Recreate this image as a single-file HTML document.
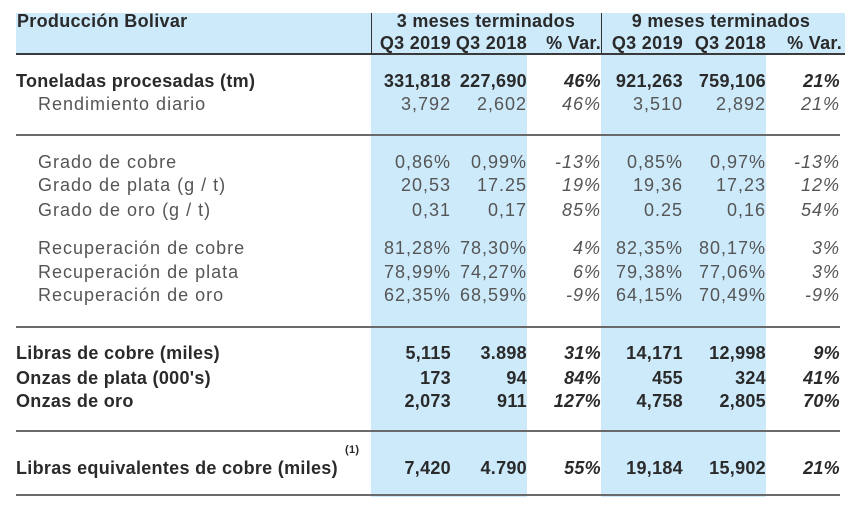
<!DOCTYPE html>
<html><head><meta charset="utf-8"><style>
html,body{margin:0;padding:0;background:#fff;}
body{width:860px;height:506px;position:relative;overflow:hidden;font-family:"Liberation Sans",sans-serif;color:#3a3a3a;}
.a{position:absolute;white-space:nowrap;line-height:22px;font-size:18px;}
.b{font-weight:bold;color:#2a2a2a;letter-spacing:0.3px;}
.r{color:#555;letter-spacing:1px;}
.i{font-style:italic;}
.bg{position:absolute;background:#cdeafb;}
.ln{position:absolute;left:16px;width:824px;height:2px;background:#6a6a6a;}
</style></head><body>
<div class="bg" style="left:16px;top:13px;width:829px;height:41px"></div>
<div class="bg" style="left:371px;top:54px;width:156px;height:443px"></div>
<div class="bg" style="left:601px;top:54px;width:165px;height:443px"></div>
<div class="ln" style="top:53px;width:829px;height:2px;background:#3a3a3a"></div>
<div style="position:absolute;left:371px;top:13px;width:1px;height:41px;background:#333"></div>
<div style="position:absolute;left:601px;top:13px;width:1px;height:41px;background:#333"></div>
<div class="ln" style="top:134px"></div>
<div class="ln" style="top:326px"></div>
<div class="ln" style="top:430px"></div>
<div class="ln" style="top:494px"></div>

<div class="a b" style="left:17px;top:10px">Producción Bolivar</div>
<div class="a b" style="left:371px;width:230px;text-align:center;top:10px">3 meses terminados</div>
<div class="a b" style="left:601px;width:240px;text-align:center;top:10px">9 meses terminados</div>
<div class="a b" style="right:409px;top:32px">Q3 2019</div>
<div class="a b" style="right:333px;top:32px">Q3 2018</div>
<div class="a b" style="right:259px;top:32px">% Var.</div>
<div class="a b" style="right:177px;top:32px">Q3 2019</div>
<div class="a b" style="right:94px;top:32px">Q3 2018</div>
<div class="a b" style="right:18px;top:32px">% Var.</div>

<div class="a b" style="left:16px;top:70px">Toneladas procesadas (tm)</div>
<div class="a b" style="right:409px;top:70px">331,818</div>
<div class="a b" style="right:333px;top:70px">227,690</div>
<div class="a b i" style="right:259px;top:70px">46%</div>
<div class="a b" style="right:177px;top:70px">921,263</div>
<div class="a b" style="right:94px;top:70px">759,106</div>
<div class="a b i" style="right:20px;top:70px">21%</div>

<div class="a r" style="left:38px;top:93px">Rendimiento diario</div>
<div class="a r" style="right:409px;top:93px">3,792</div>
<div class="a r" style="right:333px;top:93px">2,602</div>
<div class="a r i" style="right:259px;top:93px">46%</div>
<div class="a r" style="right:177px;top:93px">3,510</div>
<div class="a r" style="right:94px;top:93px">2,892</div>
<div class="a r i" style="right:20px;top:93px">21%</div>

<div class="a r" style="left:38px;top:151px">Grado de cobre</div>
<div class="a r" style="right:409px;top:151px">0,86%</div>
<div class="a r" style="right:333px;top:151px">0,99%</div>
<div class="a r i" style="right:259px;top:151px">-13%</div>
<div class="a r" style="right:177px;top:151px">0,85%</div>
<div class="a r" style="right:94px;top:151px">0,97%</div>
<div class="a r i" style="right:20px;top:151px">-13%</div>

<div class="a r" style="left:38px;top:174px">Grado de plata (g / t)</div>
<div class="a r" style="right:409px;top:174px">20,53</div>
<div class="a r" style="right:333px;top:174px">17.25</div>
<div class="a r i" style="right:259px;top:174px">19%</div>
<div class="a r" style="right:177px;top:174px">19,36</div>
<div class="a r" style="right:94px;top:174px">17,23</div>
<div class="a r i" style="right:20px;top:174px">12%</div>

<div class="a r" style="left:38px;top:199px">Grado de oro (g / t)</div>
<div class="a r" style="right:409px;top:199px">0,31</div>
<div class="a r" style="right:333px;top:199px">0,17</div>
<div class="a r i" style="right:259px;top:199px">85%</div>
<div class="a r" style="right:177px;top:199px">0.25</div>
<div class="a r" style="right:94px;top:199px">0,16</div>
<div class="a r i" style="right:20px;top:199px">54%</div>

<div class="a r" style="left:38px;top:237px">Recuperación de cobre</div>
<div class="a r" style="right:409px;top:237px">81,28%</div>
<div class="a r" style="right:333px;top:237px">78,30%</div>
<div class="a r i" style="right:259px;top:237px">4%</div>
<div class="a r" style="right:177px;top:237px">82,35%</div>
<div class="a r" style="right:94px;top:237px">80,17%</div>
<div class="a r i" style="right:20px;top:237px">3%</div>

<div class="a r" style="left:38px;top:261px">Recuperación de plata</div>
<div class="a r" style="right:409px;top:261px">78,99%</div>
<div class="a r" style="right:333px;top:261px">74,27%</div>
<div class="a r i" style="right:259px;top:261px">6%</div>
<div class="a r" style="right:177px;top:261px">79,38%</div>
<div class="a r" style="right:94px;top:261px">77,06%</div>
<div class="a r i" style="right:20px;top:261px">3%</div>

<div class="a r" style="left:38px;top:284px">Recuperación de oro</div>
<div class="a r" style="right:409px;top:284px">62,35%</div>
<div class="a r" style="right:333px;top:284px">68,59%</div>
<div class="a r i" style="right:259px;top:284px">-9%</div>
<div class="a r" style="right:177px;top:284px">64,15%</div>
<div class="a r" style="right:94px;top:284px">70,49%</div>
<div class="a r i" style="right:20px;top:284px">-9%</div>

<div class="a b" style="left:16px;top:342px">Libras de cobre (miles)</div>
<div class="a b" style="right:409px;top:342px">5,115</div>
<div class="a b" style="right:333px;top:342px">3.898</div>
<div class="a b i" style="right:259px;top:342px">31%</div>
<div class="a b" style="right:177px;top:342px">14,171</div>
<div class="a b" style="right:94px;top:342px">12,998</div>
<div class="a b i" style="right:20px;top:342px">9%</div>

<div class="a b" style="left:16px;top:367px">Onzas de plata (000's)</div>
<div class="a b" style="right:409px;top:367px">173</div>
<div class="a b" style="right:333px;top:367px">94</div>
<div class="a b i" style="right:259px;top:367px">84%</div>
<div class="a b" style="right:177px;top:367px">455</div>
<div class="a b" style="right:94px;top:367px">324</div>
<div class="a b i" style="right:20px;top:367px">41%</div>

<div class="a b" style="left:16px;top:390px">Onzas de oro</div>
<div class="a b" style="right:409px;top:390px">2,073</div>
<div class="a b" style="right:333px;top:390px">911</div>
<div class="a b i" style="right:259px;top:390px">127%</div>
<div class="a b" style="right:177px;top:390px">4,758</div>
<div class="a b" style="right:94px;top:390px">2,805</div>
<div class="a b i" style="right:20px;top:390px">70%</div>

<div class="a b" style="left:16px;top:457px">Libras equivalentes de cobre (miles)</div>
<div class="a b" style="left:345px;top:443px;font-size:11px;line-height:14px">(1)</div>
<div class="a b" style="right:409px;top:457px">7,420</div>
<div class="a b" style="right:333px;top:457px">4.790</div>
<div class="a b i" style="right:259px;top:457px">55%</div>
<div class="a b" style="right:177px;top:457px">19,184</div>
<div class="a b" style="right:94px;top:457px">15,902</div>
<div class="a b i" style="right:20px;top:457px">21%</div>
</body></html>
